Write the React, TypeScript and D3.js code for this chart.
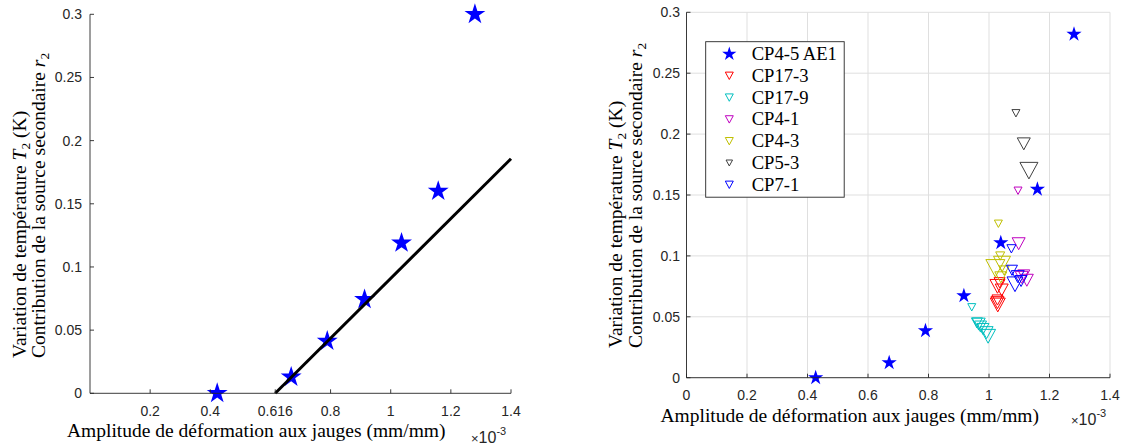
import React from "react";
import * as d3 from "d3";

// ---------- data (x in units of 1e-3 mm/mm) ----------
const leftStarX = [0.423, 0.669, 0.789, 0.913, 1.036, 1.158, 1.28];
const leftStarY = [0, 0.0129, 0.0413, 0.0743, 0.119, 0.16, 0.3];
const fitX = [0.616, 1.4];
const fitY = [0, 0.1857];
const leftXTicks = [0.2, 0.4, 0.616, 0.8, 1, 1.2, 1.4];
const yTicks = [0, 0.05, 0.1, 0.15, 0.2, 0.25, 0.3];
const rightXTicks = [0, 0.2, 0.4, 0.6, 0.8, 1, 1.2, 1.4];

const starX = [0.427, 0.67, 0.79, 0.917, 1.039, 1.16, 1.281];
const starY = [0, 0.0123, 0.0386, 0.0673, 0.1108, 0.1547, 0.282];

const cp17_3X = [1.035, 1.028, 1.042, 1.028, 1.028, 1.029];
const cp17_3Y = [0.078, 0.075, 0.072, 0.0638, 0.0616, 0.0597];
const cp17_3S = [11, 15, 13, 11, 13, 15];

const cp17_9X = [0.943, 0.96, 0.966, 0.972, 0.98, 0.992, 0.997];
const cp17_9Y = [0.0578, 0.045, 0.044, 0.042, 0.04, 0.037, 0.034];
const cp17_9S = [8, 11, 13, 12, 12, 13, 15];

const cp4_1X = [1.096, 1.098, 1.115, 1.108, 1.125];
const cp4_1Y = [0.1535, 0.11, 0.084, 0.0824, 0.08];
const cp4_1S = [8, 13, 12, 13, 13];

const cp4_3X = [1.031, 1.037, 1.021, 1.043, 1.039, 1.05];
const cp4_3Y = [0.1264, 0.0999, 0.0898, 0.0933, 0.0824, 0.088];
const cp4_3S = [8, 9, 19, 17, 12, 10];

const cp5_3X = [1.089, 1.115, 1.132];
const cp5_3Y = [0.2171, 0.192, 0.17];
const cp5_3S = [8, 13, 18];

const cp7_1X = [1.074, 1.076, 1.086, 1.106, 1.095];
const cp7_1Y = [0.1058, 0.0882, 0.0767, 0.0794, 0.083];
const cp7_1S = [9, 11, 16, 12, 13];

const seriesNames = ["CP4-5 AE1", "CP17-3", "CP17-9", "CP4-1", "CP4-3", "CP5-3", "CP7-1"];
const seriesColors = ["#0000FF", "#FF0000", "#00BFBF", "#BF00BF", "#BFBF00", "#404040", "#0000FF"];

// ---------- helpers ----------
const AX = "#262626";
const GRID = "#dfdfdf";
const SANS = "'Liberation Sans', Arial, sans-serif";
const SERIF = "'Liberation Serif', 'Times New Roman', serif";

function starPath(cx: number, cy: number, R: number) {
  const r = R * 0.382;
  const pts: string[] = [];
  for (let i = 0; i < 10; i++) {
    const a = ((-90 + i * 36) * Math.PI) / 180;
    const rad = i % 2 === 0 ? R : r;
    pts.push(`${(cx + rad * Math.cos(a)).toFixed(2)},${(cy + rad * Math.sin(a)).toFixed(2)}`);
  }
  return "M" + pts.join("L") + "Z";
}

function triPath(cx: number, cy: number, w: number) {
  const h = w * 0.92;
  return `M${cx - w / 2},${cy - h / 2}L${cx + w / 2},${cy - h / 2}L${cx},${cy + h / 2}Z`;
}

const fmt = (v: number) => String(+v.toFixed(3));

// ---------- scales ----------
const xL = d3.scaleLinear().domain([0, 1.4]).range([90, 511]);
const yL = d3.scaleLinear().domain([0, 0.3]).range([393.3, 14.3]);
const xR = d3.scaleLinear().domain([0, 1.4]).range([686.5, 1110]);
const yR = d3.scaleLinear().domain([0, 0.3]).range([377.7, 12.3]);

const triSeries = [
  { x: cp17_3X, y: cp17_3Y, s: cp17_3S },
  { x: cp17_9X, y: cp17_9Y, s: cp17_9S },
  { x: cp4_1X, y: cp4_1Y, s: cp4_1S },
  { x: cp4_3X, y: cp4_3Y, s: cp4_3S },
  { x: cp5_3X, y: cp5_3Y, s: cp5_3S },
  { x: cp7_1X, y: cp7_1Y, s: cp7_1S },
];

function YLabel({ x1, x2, y }: { x1: number; x2: number; y: number }) {
  return (
    <g fontFamily={SERIF} fontSize={19.5} fill="#000">
      <text transform={`translate(${x1},${y}) rotate(-90)`}>
        Variation de température <tspan fontStyle="italic">T</tspan>
        <tspan dy={4} fontSize={13.5}>2</tspan>
        <tspan dy={-4}> (K)</tspan>
      </text>
      <text transform={`translate(${x2},${y}) rotate(-90)`}>
        Contribution de la source secondaire <tspan fontStyle="italic">r</tspan>
        <tspan dy={4} fontSize={13.5}>2</tspan>
      </text>
    </g>
  );
}

function Exponent({ x, y }: { x: number; y: number }) {
  return (
    <text x={x} y={y} fontFamily={SANS} fontSize={16} fill={AX}>
      <tspan fontSize={13}>×</tspan>10
      <tspan dy={-8} fontSize={11}>-3</tspan>
    </text>
  );
}

export default function App() {
  const [y0L] = yL.range();
  const [y0R, y1R] = yR.range();
  const [x0R, x1R] = xR.range();
  const [x0L, x1L] = xL.range();

  return (
    <svg
      width={1126}
      height={445}
      style={{ position: "absolute", left: 0, top: 0, background: "#fff" }}
    >
      <rect width={1126} height={445} fill="#fff" />

      {/* ================= LEFT PANEL ================= */}
      <g>
        {/* stars */}
        {leftStarX.map((v, i) => (
          <path key={i} d={starPath(xL(v), yL(leftStarY[i]), 11)} fill="#0000FF" />
        ))}
        {/* fit line */}
        <line
          x1={xL(fitX[0])}
          y1={yL(fitY[0])}
          x2={xL(fitX[1])}
          y2={yL(fitY[1])}
          stroke="#000"
          strokeWidth={3}
        />
        {/* axes */}
        <line x1={x0L} y1={y0L} x2={x1L} y2={y0L} stroke={AX} strokeWidth={0.9} />
        <line x1={x0L} y1={y0L} x2={x0L} y2={yL(0.3)} stroke={AX} strokeWidth={0.9} />
        {leftXTicks.map((t) => (
          <g key={t}>
            <line x1={xL(t)} x2={xL(t)} y1={y0L} y2={y0L - 4} stroke={AX} strokeWidth={0.9} />
            <text x={xL(t)} y={416} textAnchor="middle" fontFamily={SANS} fontSize={14} fill={AX}>
              {fmt(t)}
            </text>
          </g>
        ))}
        {yTicks.map((t) => (
          <g key={t}>
            <line x1={x0L} x2={x0L + 4} y1={yL(t)} y2={yL(t)} stroke={AX} strokeWidth={0.9} />
            <text x={82} y={yL(t) + 5} textAnchor="end" fontFamily={SANS} fontSize={14} fill={AX}>
              {fmt(t)}
            </text>
          </g>
        ))}
        <text x={67} y={437} fontFamily={SERIF} fontSize={19.5} fill="#000">
          Amplitude de déformation aux jauges (mm/mm)
        </text>
        <Exponent x={471} y={443} />
        <YLabel x1={26} x2={45} y={358} />
      </g>

      {/* ================= RIGHT PANEL ================= */}
      <g>
        {/* grid */}
        {rightXTicks.map((t) => (
          <line key={"gx" + t} x1={xR(t)} x2={xR(t)} y1={y0R} y2={y1R} stroke={GRID} strokeWidth={1} />
        ))}
        {yTicks.map((t) => (
          <line key={"gy" + t} x1={x0R} x2={x1R} y1={yR(t)} y2={yR(t)} stroke={GRID} strokeWidth={1} />
        ))}
        {/* stars */}
        {starX.map((v, i) => (
          <path key={"s" + i} d={starPath(xR(v), yR(starY[i]), 8)} fill="#0000FF" />
        ))}
        {/* triangles */}
        {triSeries.map((s, k) => (
          <g key={"t" + k} fill="none" stroke={seriesColors[k + 1]} strokeWidth={1}>
            {s.x.map((v, i) => (
              <path key={i} d={triPath(xR(v), yR(s.y[i]), s.s[i])} />
            ))}
          </g>
        ))}
        {/* axes */}
        <line x1={x0R} y1={y0R} x2={x1R} y2={y0R} stroke={AX} strokeWidth={0.9} />
        <line x1={x0R} y1={y0R} x2={x0R} y2={y1R} stroke={AX} strokeWidth={0.9} />
        {rightXTicks.map((t) => (
          <g key={"xt" + t}>
            <line x1={xR(t)} x2={xR(t)} y1={y0R} y2={y0R - 4} stroke={AX} strokeWidth={0.9} />
            <text x={xR(t)} y={400} textAnchor="middle" fontFamily={SANS} fontSize={14} fill={AX}>
              {fmt(t)}
            </text>
          </g>
        ))}
        {yTicks.map((t) => (
          <g key={"yt" + t}>
            <line x1={x0R} x2={x0R + 4} y1={yR(t)} y2={yR(t)} stroke={AX} strokeWidth={0.9} />
            <text x={680} y={yR(t) + 5} textAnchor="end" fontFamily={SANS} fontSize={14} fill={AX}>
              {fmt(t)}
            </text>
          </g>
        ))}
        <text x={660.5} y={422} fontFamily={SERIF} fontSize={19.5} fill="#000">
          Amplitude de déformation aux jauges (mm/mm)
        </text>
        <Exponent x={1071} y={425} />
        <YLabel x1={622} x2={642} y={348} />

        {/* legend */}
        <rect x={705.7} y={41.7} width={138.5} height={155.5} fill="#fff" stroke={AX} strokeWidth={0.9} />
        {seriesNames.map((n, i) => {
          const cy = 54 + i * 21.8;
          return (
            <g key={"lg" + i}>
              {i === 0 ? (
                <path d={starPath(729.3, cy, 7.5)} fill={seriesColors[0]} />
              ) : (
                <path
                  d={triPath(729.3, cy, i === 5 ? 6.5 : 8)}
                  fill="none"
                  stroke={seriesColors[i]}
                  strokeWidth={1}
                />
              )}
              <text x={751.7} y={cy + 6} fontFamily={SERIF} fontSize={18.6} fill="#000">
                {n}
              </text>
            </g>
          );
        })}
      </g>
    </svg>
  );
}
